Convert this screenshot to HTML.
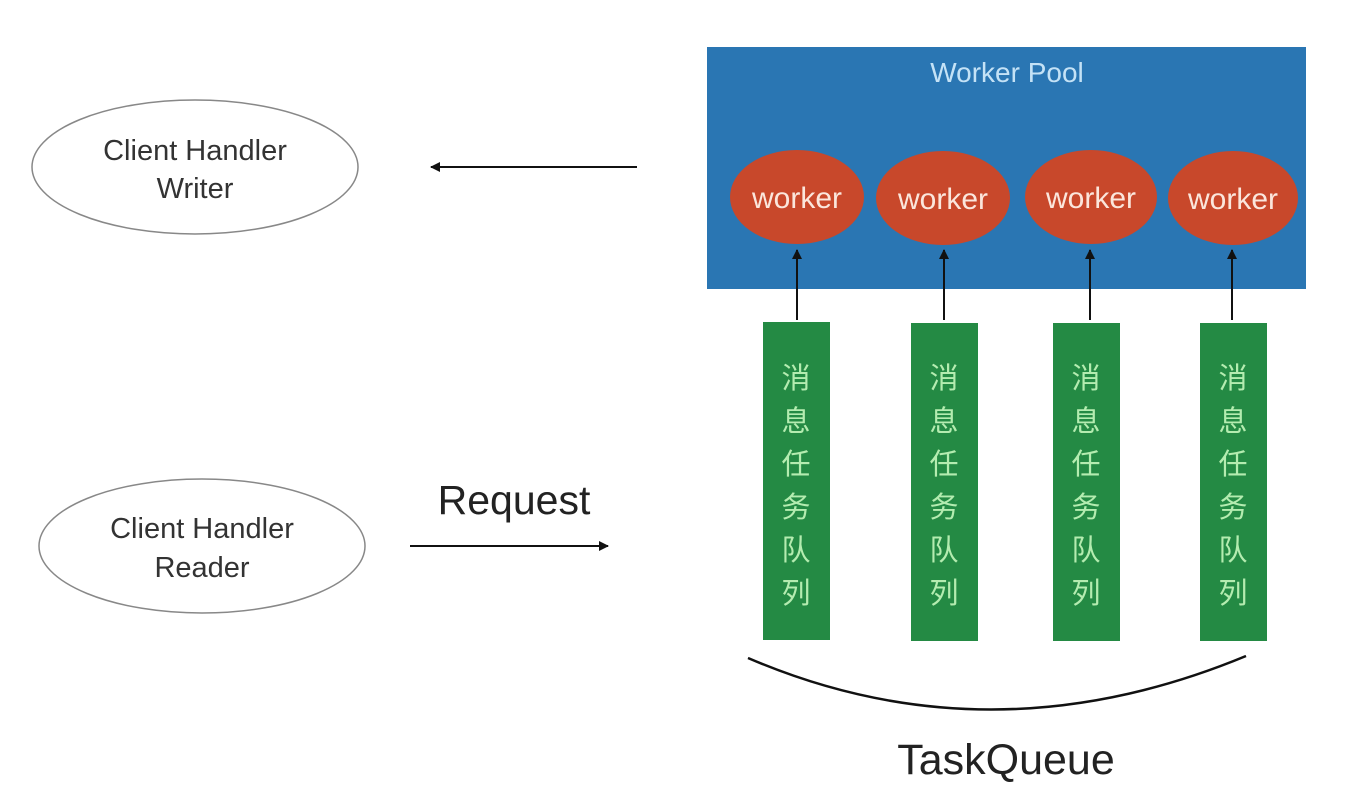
<!DOCTYPE html>
<html><head><meta charset="utf-8"><style>
html,body{margin:0;padding:0;background:#fff;}
svg{display:block;}
</style></head><body>
<svg width="1358" height="790" viewBox="0 0 1358 790" xmlns="http://www.w3.org/2000/svg" font-family="Liberation Sans, sans-serif">
<defs>
<marker id="ah" markerWidth="10" markerHeight="10" refX="9" refY="5" orient="auto" markerUnits="userSpaceOnUse">
<path d="M0,0 L10,5 L0,10 Z" fill="#111"/>
</marker>
</defs>
<ellipse cx="195" cy="167" rx="163" ry="67" fill="#fff" stroke="#888" stroke-width="1.5"/>
<text x="195" y="160" font-size="29" text-anchor="middle" fill="#333">Client Handler</text>
<text x="195" y="198" font-size="29" text-anchor="middle" fill="#333">Writer</text>
<ellipse cx="202" cy="546" rx="163" ry="67" fill="#fff" stroke="#888" stroke-width="1.5"/>
<text x="202" y="538" font-size="29" text-anchor="middle" fill="#333">Client Handler</text>
<text x="202" y="577" font-size="29" text-anchor="middle" fill="#333">Reader</text>
<line x1="637" y1="167" x2="431" y2="167" stroke="#111" stroke-width="2" marker-end="url(#ah)"/>
<line x1="410" y1="546" x2="608" y2="546" stroke="#111" stroke-width="2" marker-end="url(#ah)"/>
<text x="514" y="514" font-size="41" text-anchor="middle" fill="#222">Request</text>
<rect x="707" y="47" width="599" height="242" fill="#2a76b3"/>
<text x="1007" y="82" font-size="28" text-anchor="middle" fill="#c4e2f6">Worker Pool</text>
<g fill="#c8482b">
<ellipse cx="797" cy="197" rx="67" ry="47"/>
<ellipse cx="943" cy="198" rx="67" ry="47"/>
<ellipse cx="1091" cy="197" rx="66" ry="47"/>
<ellipse cx="1233" cy="198" rx="65" ry="47"/>
</g>
<g font-size="30" text-anchor="middle" fill="#fbe6dc">
<text x="797" y="208">worker</text>
<text x="943" y="209">worker</text>
<text x="1091" y="208">worker</text>
<text x="1233" y="209">worker</text>
</g>
<g stroke="#111" stroke-width="2">
<line x1="797" y1="320" x2="797" y2="250" marker-end="url(#ah)"/>
<line x1="944" y1="320" x2="944" y2="250" marker-end="url(#ah)"/>
<line x1="1090" y1="320" x2="1090" y2="250" marker-end="url(#ah)"/>
<line x1="1232" y1="320" x2="1232" y2="250" marker-end="url(#ah)"/>
</g>
<g fill="#248a44">
<rect x="763" y="322" width="67" height="318"/>
<rect x="911" y="323" width="67" height="318"/>
<rect x="1053" y="323" width="67" height="318"/>
<rect x="1200" y="323" width="67" height="318"/>
</g>
<g font-family="Liberation Sans, Noto Sans CJK SC, sans-serif" font-size="29" text-anchor="middle" fill="#b4ecb0">
<text x="796" y="388">消</text><text x="796" y="431">息</text><text x="796" y="474">任</text><text x="796" y="517">务</text><text x="796" y="560">队</text><text x="796" y="603">列</text>
<text x="944" y="388">消</text><text x="944" y="431">息</text><text x="944" y="474">任</text><text x="944" y="517">务</text><text x="944" y="560">队</text><text x="944" y="603">列</text>
<text x="1086" y="388">消</text><text x="1086" y="431">息</text><text x="1086" y="474">任</text><text x="1086" y="517">务</text><text x="1086" y="560">队</text><text x="1086" y="603">列</text>
<text x="1233" y="388">消</text><text x="1233" y="431">息</text><text x="1233" y="474">任</text><text x="1233" y="517">务</text><text x="1233" y="560">队</text><text x="1233" y="603">列</text>
</g>
<path d="M748,658 Q990,762 1246,656" fill="none" stroke="#111" stroke-width="2.5"/>
<text x="1006" y="774" font-size="43" text-anchor="middle" fill="#222">TaskQueue</text>
</svg>
</body></html>
